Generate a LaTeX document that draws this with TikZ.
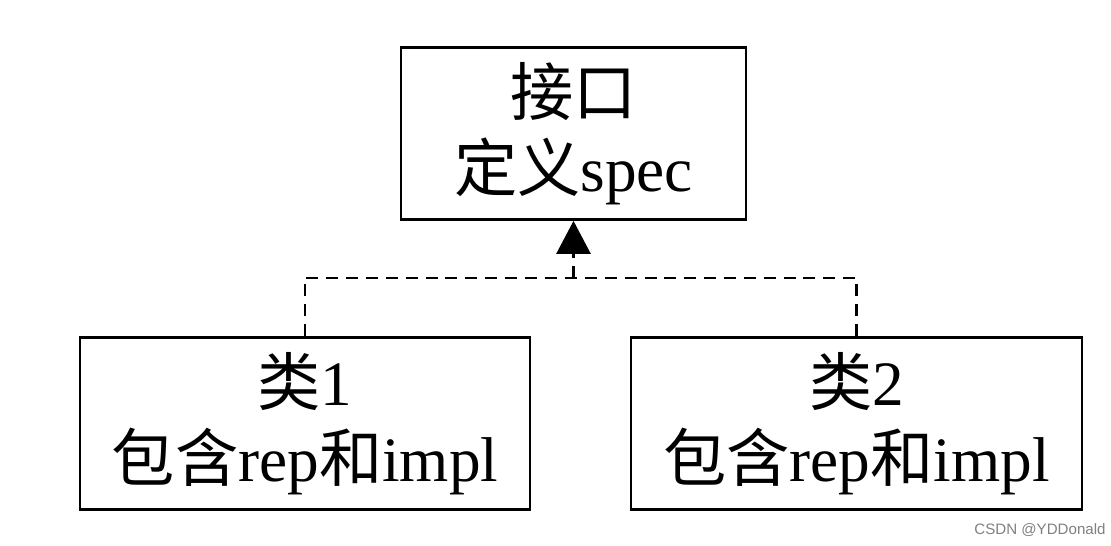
\documentclass[tikz,border=0pt]{standalone}
\usepackage{fontspec}
\setmainfont{Liberation Serif}
\setsansfont{Liberation Sans}
\newfontfamily\cjk{Noto Sans CJK SC}
\usetikzlibrary{arrows.meta}

\begin{document}
\begin{tikzpicture}[x=0.02cm,y=-0.02cm,
    line width=1.6pt,
    box/.style={draw,align=center,inner sep=0pt,
      font=\fontsize{36}{43}\selectfont},
    realize/.style={dashed,dash pattern=on 6.8pt off 4.5pt},
    every node/.style={minimum height=3.44cm}]
  \useasboundingbox (0,0) rectangle (1111,546);
  \draw
    (573.5,133.5) node[box,minimum width=6.9cm] (iface)
      {{\cjk 接口}\\{\cjk 定义}spec}
    (305,423.5) node[box,minimum width=9.0cm] (cls1)
      {{\cjk 类}1\\{\cjk 包含}rep{\cjk 和}impl}
    (856.5,423.5) node[box,minimum width=9.02cm] (cls2)
      {{\cjk 类}2\\{\cjk 包含}rep{\cjk 和}impl};
  \coordinate (join) at (573.5,278);
  \draw[realize]
    (cls1.north) |- (join)
    (cls2.north) |- (join);
  \draw[realize,-{Triangle[width=0.68cm,length=0.66cm]}]
    (join) -- (iface.south);
  \node[minimum height=0pt,inner sep=0pt,text=gray,
    font=\sffamily\fontsize{8.6}{10}\selectfont] (mark) at (1040,530)
    {CSDN @YDDonald};
\end{tikzpicture}
\end{document}
